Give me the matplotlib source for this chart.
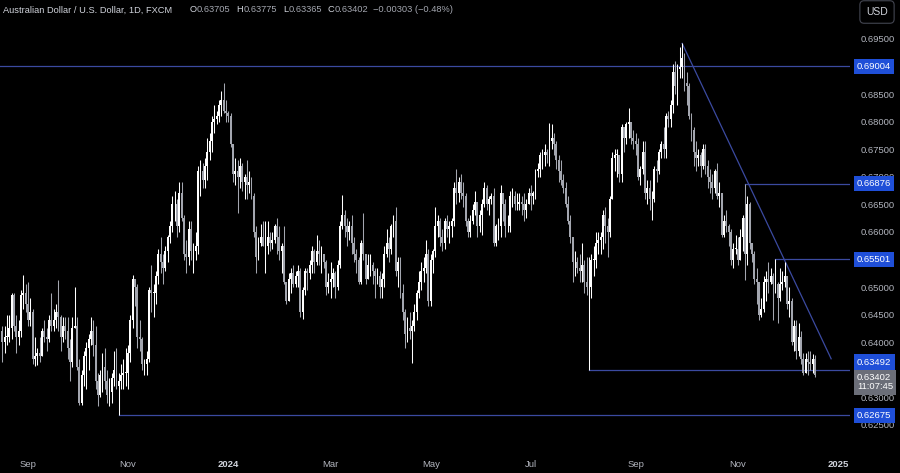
"""
AUD/USD daily candles (FXCM), Aug 2023 - Dec 2024, TradingView-style dark chart.

Output:
- out.png (900x473)
"""

import numpy as np
import pandas as pd
import matplotlib
matplotlib.use("Agg")
import matplotlib.pyplot as plt

plt.rcParams["font.family"] = ["Liberation Sans", "DejaVu Sans"]

# --- Data ---
START_DATE = "2023-08-17"
FIRST_OPEN = 0.6420

CLOSES = [
    0.6400, 0.6410,                                   # Aug 17-18 2023
    0.6410, 0.6425, 0.6485, 0.6430, 0.6410,
    0.6420, 0.6485, 0.6490, 0.6470, 0.6440,
    0.6455, 0.6370, 0.6375, 0.6380, 0.6375,
    0.6420, 0.6410, 0.6405, 0.6440, 0.6430,
    0.6440, 0.6455, 0.6445, 0.6410, 0.6430,
    0.6420, 0.6390, 0.6365, 0.6425, 0.6430,
    0.6355, 0.6290, 0.6340, 0.6375, 0.6390,           # Oct 2
    0.6405, 0.6420, 0.6395, 0.6330, 0.6305,
    0.6340, 0.6355, 0.6330, 0.6305, 0.6310,
    0.6335, 0.6350, 0.6320, 0.6330, 0.6340,
    0.6345, 0.6345, 0.6380, 0.6440, 0.6515,
    0.6500, 0.6410, 0.6405, 0.6360, 0.6360,           # Nov 6
    0.6370, 0.6495, 0.6490, 0.6490, 0.6520,
    0.6560, 0.6545, 0.6535, 0.6565, 0.6590,
    0.6610, 0.6650, 0.6650, 0.6610, 0.6670,
    0.6625, 0.6560, 0.6555, 0.6605, 0.6565,           # Dec 4
    0.6565, 0.6575, 0.6710, 0.6710, 0.6695,
    0.6720, 0.6745, 0.6765, 0.6800, 0.6805,
    0.6810, 0.6830, 0.6840, 0.6820, 0.6815,
    0.6810, 0.6760, 0.6705, 0.6710, 0.6700,           # Jan 1 2024
    0.6720, 0.6690, 0.6700, 0.6685, 0.6690,
    0.6665, 0.6600, 0.6555, 0.6580, 0.6590,
    0.6575, 0.6575, 0.6590, 0.6580, 0.6585,
    0.6610, 0.6590, 0.6565, 0.6575, 0.6510,
    0.6475, 0.6515, 0.6525, 0.6505, 0.6520,           # Feb 5
    0.6530, 0.6455, 0.6495, 0.6530, 0.6525,
    0.6540, 0.6565, 0.6545, 0.6565, 0.6560,
    0.6560, 0.6545, 0.6500, 0.6510, 0.6515,
    0.6525, 0.6500, 0.6540, 0.6610, 0.6630,           # Mar 4
    0.6610, 0.6600, 0.6610, 0.6580, 0.6560,
    0.6550, 0.6510, 0.6580, 0.6560, 0.6515,
    0.6540, 0.6540, 0.6530, 0.6520, 0.6520,
    0.6500, 0.6515, 0.6560, 0.6580, 0.6570,           # Apr 1
    0.6610, 0.6620, 0.6530, 0.6545, 0.6490,
    0.6455, 0.6415, 0.6425, 0.6420, 0.6430,
    0.6455, 0.6490, 0.6510, 0.6530, 0.6535,
    0.6560, 0.6475, 0.6550, 0.6565, 0.6610,
    0.6620, 0.6590, 0.6580, 0.6620, 0.6605,           # May 6
    0.6610, 0.6620, 0.6680, 0.6670, 0.6690,
    0.6670, 0.6665, 0.6620, 0.6600, 0.6620,
    0.6640, 0.6655, 0.6610, 0.6630, 0.6650,
    0.6680, 0.6650, 0.6660, 0.6665, 0.6580,           # Jun 3
    0.6610, 0.6610, 0.6670, 0.6650, 0.6610,
    0.6610, 0.6665, 0.6665, 0.6650, 0.6650,
    0.6655, 0.6650, 0.6640, 0.6650, 0.6670,
    0.6665, 0.6670, 0.6710, 0.6715, 0.6740,           # Jul 1
    0.6740, 0.6745, 0.6740, 0.6765, 0.6770,
    0.6760, 0.6730, 0.6710, 0.6695, 0.6680,
    0.6650, 0.6620, 0.6590, 0.6545, 0.6545,
    0.6535, 0.6530, 0.6540, 0.6510, 0.6500,
    0.6500, 0.6550, 0.6550, 0.6580, 0.6585,           # Aug 5
    0.6590, 0.6630, 0.6610, 0.6600, 0.6660,
    0.6735, 0.6740, 0.6740, 0.6705, 0.6790,
    0.6770, 0.6795, 0.6800, 0.6770, 0.6765,
    0.6760, 0.6700, 0.6715, 0.6745, 0.6670,           # Sep 2
    0.6680, 0.6660, 0.6660, 0.6715, 0.6710,
    0.6745, 0.6760, 0.6750, 0.6810, 0.6805,
    0.6830, 0.6890, 0.6865, 0.6895, 0.6900,
    0.6915, 0.6870, 0.6865, 0.6810, 0.6785,           # Sep 30
    0.6745, 0.6735, 0.6740, 0.6720, 0.6750,
    0.6720, 0.6700, 0.6690, 0.6680, 0.6710,
    0.6665, 0.6670, 0.6595, 0.6620, 0.6610,
    0.6600, 0.6550, 0.6570, 0.6570, 0.6550,
    0.6590, 0.6625, 0.6560, 0.6650, 0.6580,           # Nov 4
    0.6560, 0.6515, 0.6510, 0.6450, 0.6460,
    0.6510, 0.6515, 0.6510, 0.6520, 0.6505,
    0.6505, 0.6480, 0.6505, 0.6510, 0.6520,
    0.6470, 0.6475, 0.6400, 0.6430, 0.6385,           # Dec 2
    0.6410, 0.6370, 0.6345, 0.6370, 0.6365,
    0.6360, 0.63705, 0.63402,
]

HIGHS = [
    0.6430, 0.6430,
    0.6450, 0.6450, 0.6490, 0.6490, 0.6450,
    0.6440, 0.6495, 0.6522, 0.6505, 0.6510,
    0.6480, 0.6460, 0.6410, 0.6390, 0.6410,
    0.6425, 0.6440, 0.6425, 0.6450, 0.6490,
    0.6460, 0.6470, 0.6512, 0.6450, 0.6445,
    0.6445, 0.6445, 0.6405, 0.6445, 0.6500,
    0.6445, 0.6370, 0.6350, 0.6385, 0.6400,
    0.6415, 0.6445, 0.6440, 0.6430, 0.6345,
    0.6350, 0.6380, 0.6390, 0.6350, 0.6335,
    0.6345, 0.6385, 0.6390, 0.6345, 0.6360,
    0.6370, 0.6390, 0.6395, 0.6450, 0.6522,
    0.6510, 0.6505, 0.6440, 0.6410, 0.6370,
    0.6385, 0.6500, 0.6540, 0.6505, 0.6530,
    0.6570, 0.6590, 0.6560, 0.6575, 0.6595,
    0.6620, 0.6665, 0.6675, 0.6660, 0.6690,
    0.6690, 0.6630, 0.6585, 0.6620, 0.6620,
    0.6580, 0.6600, 0.6720, 0.6730, 0.6725,
    0.6735, 0.6770, 0.6780, 0.6810, 0.6830,
    0.6820, 0.6840, 0.6855, 0.6871, 0.6840,
    0.6820, 0.6815, 0.6760, 0.6735, 0.6730,
    0.6735, 0.6725, 0.6705, 0.6730, 0.6710,
    0.6700, 0.6670, 0.6610, 0.6590, 0.6615,
    0.6620, 0.6620, 0.6620, 0.6600, 0.6600,
    0.6615, 0.6625, 0.6610, 0.6580, 0.6610,
    0.6510, 0.6525, 0.6535, 0.6540, 0.6530,
    0.6540, 0.6535, 0.6500, 0.6535, 0.6535,
    0.6550, 0.6575, 0.6570, 0.6595, 0.6585,
    0.6575, 0.6555, 0.6550, 0.6525, 0.6545,
    0.6535, 0.6530, 0.6550, 0.6620, 0.6667,
    0.6640, 0.6625, 0.6620, 0.6630, 0.6590,
    0.6570, 0.6555, 0.6585, 0.6635, 0.6560,
    0.6560, 0.6560, 0.6545, 0.6535, 0.6535,
    0.6530, 0.6525, 0.6575, 0.6605, 0.6590,
    0.6615, 0.6630, 0.6645, 0.6555, 0.6555,
    0.6505, 0.6460, 0.6445, 0.6455, 0.6440,
    0.6470, 0.6495, 0.6530, 0.6545, 0.6555,
    0.6585, 0.6570, 0.6560, 0.6570, 0.6645,
    0.6630, 0.6625, 0.6605, 0.6625, 0.6630,
    0.6620, 0.6625, 0.6690, 0.6715, 0.6700,
    0.6705, 0.6690, 0.6670, 0.6625, 0.6630,
    0.6650, 0.6675, 0.6655, 0.6640, 0.6660,
    0.6690, 0.6685, 0.6665, 0.6670, 0.6680,
    0.6615, 0.6625, 0.6685, 0.6670, 0.6660,
    0.6630, 0.6675, 0.6680, 0.6675, 0.6670,
    0.6670, 0.6665, 0.6670, 0.6660, 0.6680,
    0.6685, 0.6675, 0.6715, 0.6725, 0.6745,
    0.6750, 0.6760, 0.6750, 0.6798, 0.6795,
    0.6780, 0.6765, 0.6740, 0.6730, 0.6705,
    0.6690, 0.6665, 0.6630, 0.6590, 0.6565,
    0.6555, 0.6560, 0.6580, 0.6550, 0.6555,
    0.6555, 0.6560, 0.6575, 0.6600, 0.6600,
    0.6600, 0.6640, 0.6645, 0.6625, 0.6665,
    0.6745, 0.6750, 0.6750, 0.6740, 0.6795,
    0.6790, 0.6800, 0.6825, 0.6800, 0.6785,
    0.6780, 0.6770, 0.6720, 0.6765, 0.6765,
    0.6695, 0.6695, 0.6675, 0.6720, 0.6730,
    0.6750, 0.6765, 0.6790, 0.6815, 0.6820,
    0.6840, 0.6905, 0.6910, 0.6905, 0.6935,
    0.6942, 0.6925, 0.6890, 0.6870, 0.6815,
    0.6790, 0.6765, 0.6750, 0.6745, 0.6760,
    0.6760, 0.6730, 0.6715, 0.6705, 0.6715,
    0.6725, 0.6690, 0.6670, 0.6630, 0.6640,
    0.6615, 0.6605, 0.6580, 0.6595, 0.6590,
    0.6605, 0.6630, 0.66876, 0.6665, 0.6655,
    0.6580, 0.6565, 0.6535, 0.6510, 0.6480,
    0.6520, 0.6530, 0.6545, 0.6535, 0.6525,
    0.65501, 0.6510, 0.6535, 0.6530, 0.6545,
    0.6515, 0.6500, 0.6480, 0.6440, 0.6440,
    0.6435, 0.6420, 0.6380, 0.6380, 0.6385,
    0.6385, 0.6378, 0.63775,
]

LOWS = [
    0.6364, 0.6380,
    0.6395, 0.6400, 0.6405, 0.6420, 0.6380,
    0.6395, 0.6410, 0.6460, 0.6455, 0.6430,
    0.6430, 0.6360, 0.6357, 0.6358, 0.6365,
    0.6375, 0.6400, 0.6385, 0.6400, 0.6420,
    0.6420, 0.6425, 0.6420, 0.6385, 0.6400,
    0.6405, 0.6370, 0.6330, 0.6355, 0.6425,
    0.6350, 0.6286, 0.6287, 0.6320, 0.6315,
    0.6350, 0.6395, 0.6375, 0.6315, 0.6285,
    0.6300, 0.6310, 0.6315, 0.6290, 0.6285,
    0.6290, 0.6320, 0.6315, 0.62675, 0.6315,
    0.6315, 0.6320, 0.6315, 0.6365, 0.6425,
    0.6465, 0.6390, 0.6385, 0.6350, 0.6340,
    0.6340, 0.6365, 0.6455, 0.6445, 0.6470,
    0.6505, 0.6525, 0.6505, 0.6530, 0.6545,
    0.6580, 0.6600, 0.6620, 0.6590, 0.6600,
    0.6620, 0.6550, 0.6525, 0.6540, 0.6550,
    0.6525, 0.6550, 0.6560, 0.6665, 0.6680,
    0.6680, 0.6695, 0.6730, 0.6745, 0.6780,
    0.6795, 0.6800, 0.6810, 0.6815, 0.6800,
    0.6800, 0.6755, 0.6690, 0.6685, 0.6635,
    0.6680, 0.6675, 0.6660, 0.6660, 0.6670,
    0.6660, 0.6590, 0.6525, 0.6550, 0.6575,
    0.6575, 0.6525, 0.6560, 0.6565, 0.6570,
    0.6580, 0.6560, 0.6550, 0.6525, 0.6505,
    0.6470, 0.6475, 0.6490, 0.6500, 0.6500,
    0.6500, 0.6445, 0.6442, 0.6485, 0.6495,
    0.6515, 0.6525, 0.6525, 0.6540, 0.6540,
    0.6525, 0.6535, 0.6485, 0.6490, 0.6480,
    0.6500, 0.6480, 0.6495, 0.6535, 0.6605,
    0.6590, 0.6575, 0.6585, 0.6560, 0.6545,
    0.6525, 0.6505, 0.6505, 0.6550, 0.6505,
    0.6515, 0.6520, 0.6505, 0.6480, 0.6505,
    0.6480, 0.6480, 0.6500, 0.6555, 0.6545,
    0.6560, 0.6590, 0.6520, 0.6500, 0.6480,
    0.6440, 0.6390, 0.6400, 0.6405, 0.6362,
    0.6420, 0.6440, 0.6480, 0.6495, 0.6510,
    0.6525, 0.6465, 0.6465, 0.6525, 0.6555,
    0.6590, 0.6575, 0.6565, 0.6570, 0.6590,
    0.6580, 0.6590, 0.6610, 0.6650, 0.6655,
    0.6660, 0.6645, 0.6610, 0.6590, 0.6590,
    0.6615, 0.6630, 0.6590, 0.6600, 0.6595,
    0.6645, 0.6640, 0.6630, 0.6650, 0.6575,
    0.6575, 0.6585, 0.6590, 0.6620, 0.6590,
    0.6600, 0.6600, 0.6645, 0.6640, 0.6640,
    0.6640, 0.6630, 0.6620, 0.6625, 0.6650,
    0.6640, 0.6650, 0.6660, 0.6700, 0.6700,
    0.6715, 0.6720, 0.6725, 0.6720, 0.6750,
    0.6740, 0.6715, 0.6690, 0.6685, 0.6670,
    0.6645, 0.6615, 0.6580, 0.6510, 0.6520,
    0.6525, 0.6510, 0.6510, 0.6490, 0.6485,
    0.63492, 0.6480, 0.6520, 0.6535, 0.6560,
    0.6560, 0.6570, 0.6580, 0.6555, 0.6590,
    0.6660, 0.6710, 0.6700, 0.6690, 0.6690,
    0.6745, 0.6760, 0.6770, 0.6760, 0.6750,
    0.6740, 0.6695, 0.6685, 0.6705, 0.6660,
    0.6650, 0.6640, 0.6622, 0.6655, 0.6690,
    0.6705, 0.6735, 0.6735, 0.6735, 0.6790,
    0.6790, 0.6815, 0.6850, 0.6830, 0.6880,
    0.6880, 0.6855, 0.6830, 0.6805, 0.6765,
    0.6720, 0.6710, 0.6720, 0.6700, 0.6715,
    0.6705, 0.6680, 0.6670, 0.6660, 0.6670,
    0.6660, 0.6645, 0.6590, 0.6590, 0.6600,
    0.6575, 0.6540, 0.6535, 0.6560, 0.6540,
    0.6560, 0.6565, 0.6512, 0.6540, 0.6570,
    0.6545, 0.6505, 0.6470, 0.6441, 0.6445,
    0.6455, 0.6475, 0.6490, 0.6505, 0.6440,
    0.6490, 0.6435, 0.6475, 0.6495, 0.6500,
    0.6460, 0.6445, 0.6395, 0.6385, 0.6370,
    0.6375, 0.6360, 0.6340, 0.6345, 0.6340,
    0.6350, 0.6345, 0.63365,
]

# Analyst levels: (anchor date, price); None anchor = whole width
LEVEL_DATES = [None, "2024-11-06", "2024-11-25", "2024-08-05", "2023-10-26"]
LEVEL_PRICES = [0.69004, 0.66876, 0.65501, 0.63492, 0.62675]
TREND_DATES = ["2024-09-30", "2024-12-27"]
TREND_PRICES = [0.6942, 0.6370]

# price-scale ticks (the ones sitting fully under a level label are not drawn)
PRICE_TICKS = [0.625, 0.630, 0.640, 0.645, 0.650, 0.660, 0.665,
               0.670, 0.675, 0.680, 0.685, 0.695]

MONTH_TICKS = ["2023-09-01", "2023-11-01", "2024-01-01", "2024-03-01", "2024-05-01",
               "2024-07-01", "2024-09-02", "2024-11-01", "2025-01-01"]
MONTH_LABELS = ["Sep", "Nov", "2024", "Mar", "May", "Jul", "Sep", "Nov", "2025"]

UP_COLOR = "#ffffff"
DOWN_COLOR = "#a3a6af"
LEVEL_COLOR = "#3b4aa0"
LABEL_BLUE = "#1f4fd8"
AXIS_TEXT = "#b2b5be"


def main() -> None:
    closes = np.array(CLOSES)
    opens = np.concatenate([[FIRST_OPEN], closes[:-1]])
    highs = np.maximum.reduce([np.array(HIGHS), opens, closes])
    lows = np.minimum.reduce([np.array(LOWS), opens, closes])

    # bar index axis over trading days (extends past last bar for labels)
    all_days = pd.bdate_range(START_DATE, "2025-02-28")
    pos = {d.strftime("%Y-%m-%d"): i for i, d in enumerate(all_days)}
    idx = np.arange(len(closes))

    fig = plt.figure(figsize=(9, 4.73), dpi=100, facecolor="black")
    ax = fig.add_axes([0, 26 / 473, 850 / 900, 447 / 473])
    ax.set_facecolor("black")
    for spine in ax.spines.values():
        spine.set_visible(False)

    x_min, x_max = -1.03, 364.1
    ax.set_xlim(x_min, x_max)
    ax.set_ylim(0.62100, 0.70207)

    # --- Candles ---
    up = closes >= opens
    colors = np.where(up, UP_COLOR, DOWN_COLOR)
    ax.vlines(idx, lows, highs, colors=colors, linewidth=0.75, zorder=3)
    body = np.maximum(np.abs(closes - opens), 0.00006)
    ax.bar(idx, body, bottom=np.minimum(opens, closes), width=0.82,
           color=colors, linewidth=0, zorder=4)

    # --- Levels and trendline ---
    for d, p in zip(LEVEL_DATES, LEVEL_PRICES):
        x0 = x_min if d is None else pos[d]
        ax.plot([x0, x_max], [p, p], color=LEVEL_COLOR, linewidth=0.9, zorder=2)
    ax.plot([pos[d] for d in TREND_DATES], TREND_PRICES,
            color=LEVEL_COLOR, linewidth=0.9, zorder=2)

    # --- Price axis (right) ---
    ax.yaxis.tick_right()
    ax.set_yticks(PRICE_TICKS)
    ax.yaxis.set_major_formatter(plt.FormatStrFormatter("%.5f"))
    ax.tick_params(axis="y", length=0, pad=7.5, labelsize=6.8, labelcolor=AXIS_TEXT)

    # --- Time axis ---
    ax.set_xticks([pos[d] for d in MONTH_TICKS])
    ax.set_xticklabels(MONTH_LABELS)
    ax.tick_params(axis="x", length=0, pad=9, labelsize=6.8, labelcolor=AXIS_TEXT)
    for lab in ax.get_xticklabels():
        if lab.get_text().isdigit():
            lab.set_fontweight("bold")
            lab.set_color("#d1d4dc")

    # --- Price labels on the axis ---
    label_offsets = [0, 0, 0, 5.8, 0]
    for p, dy in zip(LEVEL_PRICES, label_offsets):
        ax.annotate(f"{p:.5f}", xy=(1, p), xycoords=("axes fraction", "data"),
                    xytext=(5.0, dy), textcoords="offset points",
                    ha="left", va="center", color="white", fontsize=6.8,
                    bbox=dict(boxstyle="square,pad=0.34", fc=LABEL_BLUE, ec="none"),
                    annotation_clip=False, zorder=10)
    ax.annotate("0.63402\n11:07:45", xy=(1, closes[-1]),
                xycoords=("axes fraction", "data"),
                xytext=(5.0, -5.0), textcoords="offset points",
                ha="left", va="center", color="white", fontsize=6.8,
                linespacing=1.05,
                bbox=dict(boxstyle="square,pad=0.34", fc="#6b6e78", ec="none"),
                annotation_clip=False, zorder=10)

    # --- Header ---
    y_head = 1 - 10 / 473
    header = [
        ("Australian Dollar / U.S. Dollar, 1D, FXCM", 3, "#d1d4dc"),
        ("O", 190, "#d1d4dc"), ("0.63705", 197, DOWN_COLOR),
        ("H", 236, "#d1d4dc"), ("0.63775", 244, DOWN_COLOR),
        ("L", 283, "#d1d4dc"), ("0.63365", 289, DOWN_COLOR),
        ("C", 328, "#d1d4dc"), ("0.63402", 335, DOWN_COLOR),
        ("\u22120.00303 (\u22120.48%)", 373, DOWN_COLOR),
    ]
    for text, px, col in header:
        fig.text(px / 900, y_head, text, ha="left", va="center",
                 color=col, fontsize=6.7)

    fig.text(877 / 900, 1 - 12 / 473, "USD", ha="center", va="center",
             color="#d1d4dc", fontsize=7.5,
             bbox=dict(boxstyle="round,pad=0.6,rounding_size=0.4",
                       fc="black", ec="#434651", lw=0.8))

    fig.savefig("out.png", dpi=100, facecolor="black")


if __name__ == "__main__":
    main()
